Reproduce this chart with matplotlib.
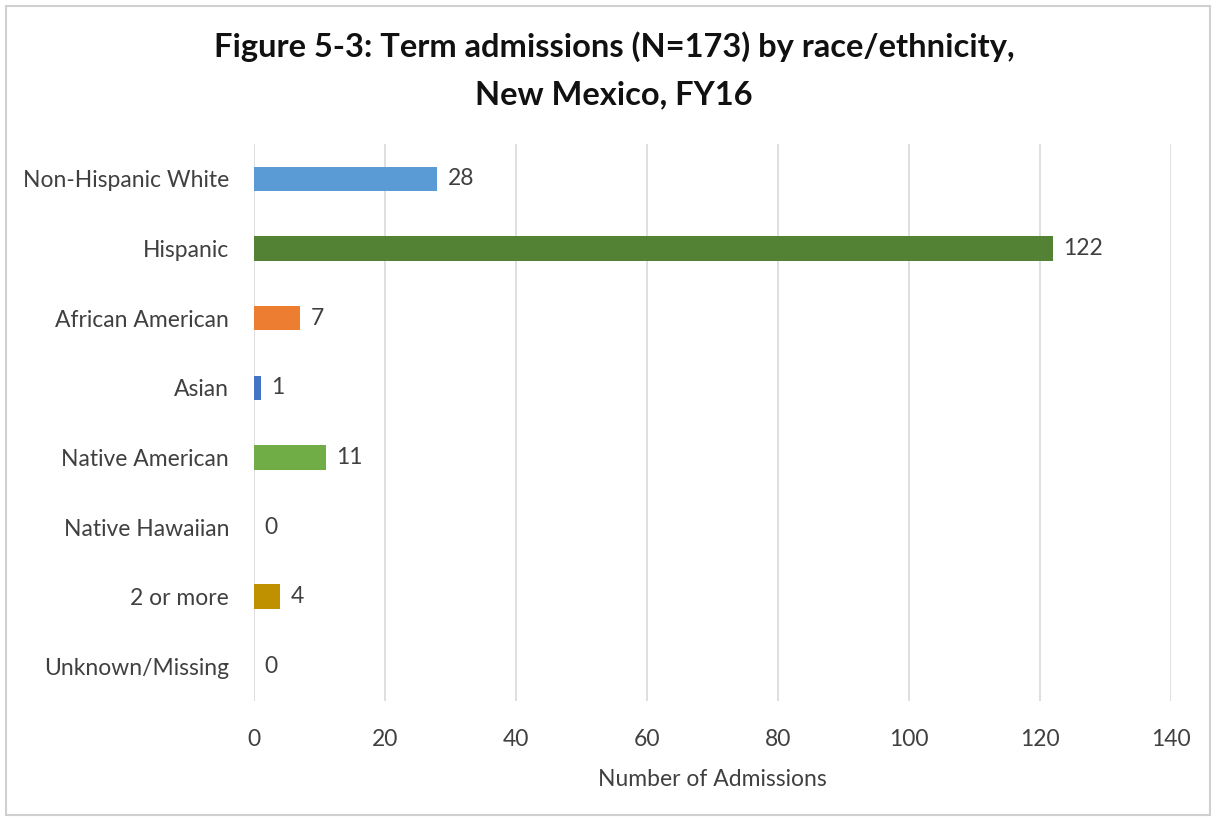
import matplotlib
matplotlib.use("Agg")
import matplotlib.pyplot as plt
from matplotlib.patches import Rectangle

# ========= Data =========
categories = ["Non-Hispanic White", "Hispanic", "African American", "Asian",
              "Native American", "Native Hawaiian", "2 or more", "Unknown/Missing"]
admissions = [28, 122, 7, 1, 11, 0, 4, 0]
bar_colors = ["#5B9BD5", "#548235", "#ED7D31", "#4472C4",
              "#70AD47", "#A5A5A5", "#BF9000", "#264478"]
x_ticks = [0, 20, 40, 60, 80, 100, 120, 140]

plt.rcParams["font.family"] = ["Lato", "DejaVu Sans"]
fs = 16.5

fig = plt.figure(figsize=(12.16, 8.19), dpi=100)
ax = fig.add_axes([0.2089, 0.144, 0.7541, 0.680])

y = list(range(len(categories)))
ax.barh(y, admissions, height=0.35, color=bar_colors, zorder=3)
for yi, v in zip(y, admissions):
    ax.text(v + 1.6, yi, str(v), va="center", ha="left", fontsize=fs, color="#404040")

ax.set_ylim(len(categories) - 0.5, -0.5)
ax.set_yticks(y)
ax.set_yticklabels(categories, fontsize=fs, color="#404040")
ax.set_xlim(0, 140)
ax.set_xticks(x_ticks)
ax.set_xticklabels([str(t) for t in x_ticks], fontsize=fs, color="#404040")
ax.xaxis.grid(True, color="#D9D9D9", linewidth=1.2, zorder=0)
ax.tick_params(axis="x", length=0, pad=20)
ax.tick_params(axis="y", length=0, pad=18)
for s in ax.spines.values():
    s.set_visible(False)

ax.set_xlabel("Number of Admissions", fontsize=fs, color="#404040", labelpad=14)

fig.text(0.505, 0.943, "Figure 5-3: Term admissions (N=173) by race/ethnicity,",
         ha="center", va="center", fontsize=23.5, fontweight="bold", color="#111111")
fig.text(0.505, 0.884, "New Mexico, FY16",
         ha="center", va="center", fontsize=23.5, fontweight="bold", color="#111111")

# outer chart frame
fig.patches.append(Rectangle((0.005, 0.005), 0.99, 0.988, transform=fig.transFigure,
                             fill=False, edgecolor="#D0D0D0", linewidth=1.5))

fig.savefig("out.png", dpi=100)
